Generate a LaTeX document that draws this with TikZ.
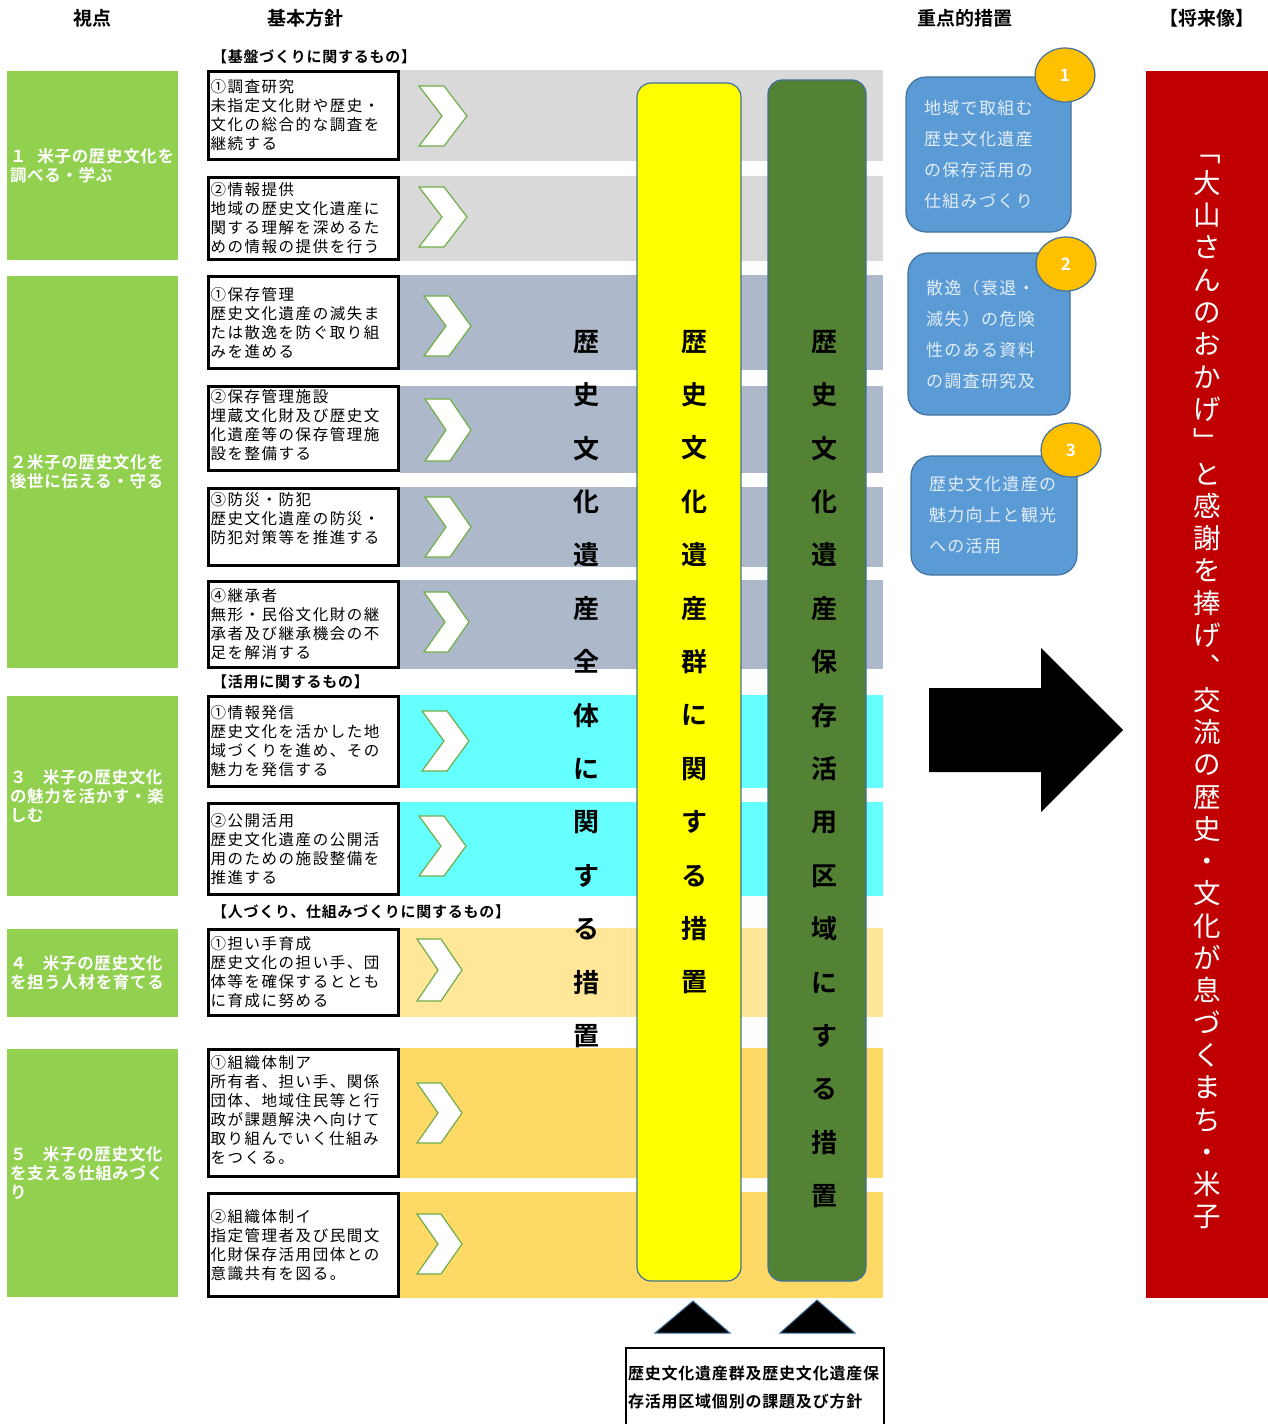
\documentclass[tikz,border=0pt]{standalone}
\usepackage{fontspec}
\setmainfont{Noto Sans CJK JP}[BoldFont={* Bold}]
\usetikzlibrary{shapes.geometric}

\definecolor{viewgreen}{HTML}{92D050}
\definecolor{bandgrey}{HTML}{D9D9D9}
\definecolor{bandslate}{HTML}{ADB9CA}
\definecolor{bandcyan}{HTML}{66FFFF}
\definecolor{bandsand}{HTML}{FFE699}
\definecolor{bandgold}{HTML}{FFD966}
\definecolor{chevgreen}{HTML}{70AD47}
\definecolor{colyellow}{HTML}{FFFF00}
\definecolor{colgreen}{HTML}{548235}
\definecolor{edgeblue}{HTML}{41719C}
\definecolor{measureblue}{HTML}{5B9BD5}
\definecolor{measuretext}{HTML}{E2EDF8}
\definecolor{badgegold}{HTML}{FFC000}
\definecolor{futurered}{HTML}{C00000}

\begin{document}
\begin{tikzpicture}[x=1pt,y=-1pt]

\tikzset{head/.style={font=\fontsize{19}{21}\selectfont\bfseries, text=black}}
\tikzset{group/.style={anchor=west, inner sep=0pt, font=\fontsize{15}{17}\selectfont\bfseries\addfontfeatures{LetterSpace=5}}}
\tikzset{viewbox/.style={fill=viewgreen, text=white, align=left, text width=165pt, inner xsep=3pt, inner ysep=0pt, font=\fontsize{16.5}{19}\selectfont\bfseries\addfontfeatures{LetterSpace=4}}}
\tikzset{policy/.style={draw=black, line width=3pt, fill=white, align=left, text width=186pt, inner xsep=2pt, inner ysep=0pt, font=\fontsize{15.5}{19}\selectfont\addfontfeatures{LetterSpace=10}}}
\tikzset{chevron/.style={fill=white, draw=chevgreen, line width=1.2pt, line join=miter}}
\tikzset{column/.style={draw=edgeblue, line width=1.2pt, rounded corners=14pt}}
\tikzset{coltext/.style={align=center, text=black, font=\fontsize{26}{53.4}\selectfont\bfseries}}
\tikzset{measure/.style={fill=measureblue, draw=edgeblue, line width=1.2pt, rounded corners=20pt, align=left, inner xsep=18pt, inner ysep=0pt, text=measuretext, font=\fontsize{17}{31}\selectfont\addfontfeatures{LetterSpace=8}}}
\tikzset{badge/.style={ellipse, fill=badgegold, draw=edgeblue, line width=1.2pt, minimum width=60pt, minimum height=54pt, inner sep=0pt, text=white, font=\fontsize{17}{19}\selectfont\bfseries}}

\useasboundingbox (0,0) rectangle (1268,1424);

% headings
\node[head] (hview) at (92,18) {視点};
\node[head] (hpolicy) at (305,18) {基本方針};
\node[head] (hmeasure) at (965,18) {重点的措置};
\node[head] (hfuture) at (1207,18) {【将来像】};

% bands behind the chevrons
\fill[bandgrey] (400,70) rectangle (883,161);
\fill[bandgrey] (400,176) rectangle (883,261);
\fill[bandslate] (400,275) rectangle (883,370);
\fill[bandslate] (400,386) rectangle (883,473);
\fill[bandslate] (400,487) rectangle (883,567);
\fill[bandslate] (400,580) rectangle (883,669);
\fill[bandcyan] (400,695) rectangle (883,788);
\fill[bandcyan] (400,802) rectangle (883,896);
\fill[bandsand] (400,928) rectangle (883,1017);
\fill[bandgold] (400,1048) rectangle (883,1178);
\fill[bandgold] (400,1192) rectangle (883,1298);

% viewpoints
\node[viewbox, minimum height=189pt] (view1) at (92.5,165.5) {１\ \ 米子の歴史文化を\\調べる・学ぶ};
\node[viewbox, minimum height=392pt] (view2) at (92.5,472) {２米子の歴史文化を\\後世に伝える・守る};
\node[viewbox, minimum height=200pt] (view3) at (92.5,796) {３\ \ \ 米子の歴史文化\\の魅力を活かす・楽\\しむ};
\node[viewbox, minimum height=88pt] (view4) at (92.5,973) {４\ \ \ 米子の歴史文化\\を担う人材を育てる};
\node[viewbox, minimum height=248pt] (view5) at (92.5,1173) {５\ \ \ 米子の歴史文化\\を支える仕組みづく\\り};

% group labels
\node[group] (gbase) at (212,57) {【基盤づくりに関するもの】};
\node[group] (guse) at (212,682) {【活用に関するもの】};
\node[group] (gpeople) at (212,912) {【人づくり、仕組みづくりに関するもの】};

% basic policies
\node[policy, minimum height=88pt] (pol1) at (303.5,115.5) {①調査研究\\未指定文化財や歴史・\\文化の総合的な調査を\\継続する};
\node[policy, minimum height=82pt] (pol2) at (303.5,218.5) {②情報提供\\地域の歴史文化遺産に\\関する理解を深めるた\\めの情報の提供を行う};
\node[policy, minimum height=92pt] (pol3) at (303.5,322.5) {①保存管理\\歴史文化遺産の滅失ま\\たは散逸を防ぐ取り組\\みを進める};
\node[policy, minimum height=84pt] (pol4) at (303.5,428) {②保存管理施設\\埋蔵文化財及び歴史文\\化遺産等の保存管理施\\設を整備する\\[-12pt]\mbox{}};
\node[policy, minimum height=77pt] (pol5) at (303.5,527) {③防災・防犯\\歴史文化遺産の防災・\\防犯対策等を推進する\\\mbox{}};
\node[policy, minimum height=86pt] (pol6) at (303.5,624.5) {④継承者\\無形・民俗文化財の継\\承者及び継承機会の不\\足を解消する};
\node[policy, minimum height=90pt] (pol7) at (303.5,741.5) {①情報発信\\歴史文化を活かした地\\域づくりを進め、その\\魅力を発信する};
\node[policy, minimum height=91pt] (pol8) at (303.5,849) {②公開活用\\歴史文化遺産の公開活\\用のための施設整備を\\推進する};
\node[policy, minimum height=86pt] (pol9) at (303.5,972.5) {①担い手育成\\歴史文化の担い手、団\\体等を確保するととも\\に育成に努める};
\node[policy, minimum height=127pt] (pol10) at (303.5,1113) {①組織体制ア\\所有者、担い手、関係\\団体、地域住民等と行\\政が課題解決へ向けて\\取り組んでいく仕組み\\をつくる。\\[-12pt]\mbox{}};
\node[policy, minimum height=103pt] (pol11) at (303.5,1245) {②組織体制イ\\指定管理者及び民間文\\化財保存活用団体との\\意識共有を図る。};

% chevrons
\filldraw[chevron] (419,86) -- ++(25,0) -- ++(23,30) -- ++(-23,30) -- ++(-25,0) -- ++(23,-30) -- cycle;
\filldraw[chevron] (419,187) -- ++(25,0) -- ++(23,30) -- ++(-23,30) -- ++(-25,0) -- ++(23,-30) -- cycle;
\filldraw[chevron] (424,296) -- ++(25,0) -- ++(22,30) -- ++(-22,30) -- ++(-25,0) -- ++(22,-30) -- cycle;
\filldraw[chevron] (425,399) -- ++(25,0) -- ++(21,31) -- ++(-21,31) -- ++(-25,0) -- ++(21,-31) -- cycle;
\filldraw[chevron] (425,497) -- ++(25,0) -- ++(21,30) -- ++(-21,30) -- ++(-25,0) -- ++(21,-30) -- cycle;
\filldraw[chevron] (424,592) -- ++(24,0) -- ++(21,30) -- ++(-21,30) -- ++(-24,0) -- ++(21,-30) -- cycle;
\filldraw[chevron] (422,711) -- ++(25,0) -- ++(22,30) -- ++(-22,30) -- ++(-25,0) -- ++(22,-30) -- cycle;
\filldraw[chevron] (419,816) -- ++(25,0) -- ++(22,30) -- ++(-22,30) -- ++(-25,0) -- ++(22,-30) -- cycle;
\filldraw[chevron] (417,939) -- ++(24,0) -- ++(21,31) -- ++(-21,31) -- ++(-24,0) -- ++(21,-31) -- cycle;
\filldraw[chevron] (417,1083) -- ++(24,0) -- ++(21,30) -- ++(-21,30) -- ++(-24,0) -- ++(21,-30) -- cycle;
\filldraw[chevron] (417,1214) -- ++(24,0) -- ++(21,30) -- ++(-21,30) -- ++(-24,0) -- ++(21,-30) -- cycle;

% key measure columns
\node[coltext] (colall) at (586,689) {歴\\史\\文\\化\\遺\\産\\全\\体\\に\\関\\す\\る\\措\\置};
\filldraw[column, fill=colyellow] (637,83) rectangle (741,1281);
\node[coltext] (colgroup) at (694,662) {歴\\史\\文\\化\\遺\\産\\群\\に\\関\\す\\る\\措\\置};
\filldraw[column, fill=colgreen] (768,80) rectangle (866,1281);
\node[coltext] (colarea) at (824,769) {歴\\史\\文\\化\\遺\\産\\保\\存\\活\\用\\区\\域\\に\\す\\る\\措\\置};

% triangles and source box
\filldraw[fill=black, draw=edgeblue, line width=1pt] (655,1333) -- (693,1301) -- (730,1333) -- cycle;
\filldraw[fill=black, draw=edgeblue, line width=1pt] (780,1333) -- (817,1300) -- (855,1333) -- cycle;
\node[draw=black, line width=2pt, anchor=north west, align=left, text width=254pt, inner xsep=2pt, inner ysep=0pt, minimum height=82pt, font=\fontsize{16}{28}\selectfont\bfseries\addfontfeatures{LetterSpace=5}] (source) at (625,1347) {歴史文化遺産群及歴史文化遺産保\\存活用区域個別の課題及び方針\\[-24pt]\mbox{}};

% focus measures
\node[measure, text width=129pt, minimum height=155pt] (meas1) at (988.5,154.5) {地域で取組む\\歴史文化遺産\\の保存活用の\\仕組みづくり};
\node[measure, text width=126pt, minimum height=162pt] (meas2) at (989,334) {散逸（衰退・\\滅失）の危険\\性のある資料\\の調査研究及};
\node[measure, text width=130pt, minimum height=119pt] (meas3) at (994,515.5) {歴史文化遺産の\\魅力向上と観光\\への活用};
\node[badge] (badge1) at (1065,75) {1};
\node[badge] (badge2) at (1066,264) {2};
\node[badge] (badge3) at (1071,450) {3};

% big arrow
\fill[black] (929,688) -- (1041,688) -- (1041,648) -- (1123,730) -- (1041,812) -- (1041,772) -- (929,772) -- cycle;

% future vision
\fill[futurered] (1146,71) rectangle (1268,1298);
\node[align=center, text=white, font=\fontsize{27.5}{32.3}\selectfont] (future) at (1207,692) {﹁\\大\\山\\さ\\ん\\の\\お\\か\\げ\\﹂\\と\\感\\謝\\を\\捧\\げ\\︑\\交\\流\\の\\歴\\史\\・\\文\\化\\が\\息\\づ\\く\\ま\\ち\\・\\米\\子};

\end{tikzpicture}
\end{document}
